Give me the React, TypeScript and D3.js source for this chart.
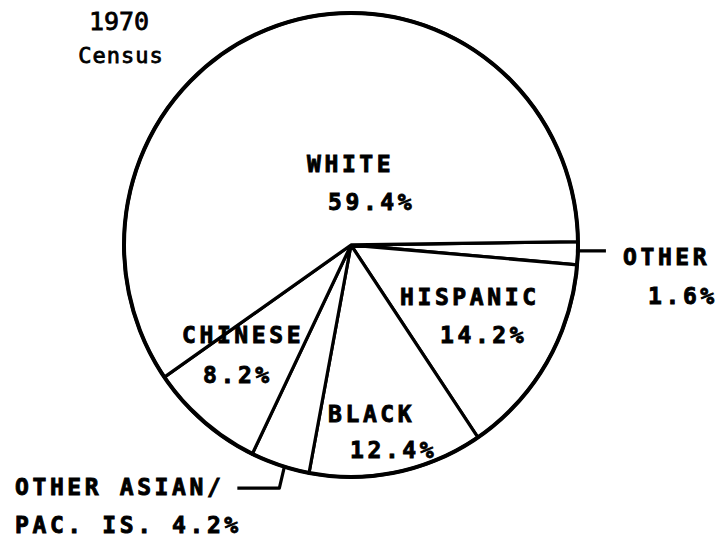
import React, { useEffect, useRef } from "react";
import * as d3 from "d3";

// slices clockwise from 3 o'clock
const groups = ["OTHER", "HISPANIC", "BLACK", "OTHER ASIAN", "CHINESE", "WHITE"];
const shares = [1.6, 14.2, 12.4, 4.2, 8.2, 59.4];
const labelLines = [
  ["OTHER", "1.6%"],
  ["HISPANIC", "14.2%"],
  ["BLACK", "12.4%"],
  ["OTHER ASIAN/", "PAC. IS. 4.2%"],
  ["CHINESE", "8.2%"],
  ["WHITE", "59.4%"],
];
const titleLines = ["1970", "Census"];

export default function App() {
  const ref = useRef<SVGSVGElement>(null);

  useEffect(() => {
    const svg = d3.select(ref.current);
    svg.selectAll("*").remove();

    const cx = 351, cy = 245, rx = 227, ry = 232;
    const font = "'DejaVu Sans Mono', monospace";

    const pie = d3.pie<number>().sort(null)
      .startAngle(Math.PI / 2 - 0.015)
      .endAngle(Math.PI / 2 - 0.015 + 2 * Math.PI);
    const arcs = pie(shares);
    const arc = d3.arc<d3.PieArcDatum<number>>().innerRadius(0).outerRadius(rx);

    const g = svg.append("g").attr("transform", `translate(${cx},${cy}) scale(1,${ry / rx})`);
    g.selectAll("path.slice").data(arcs).enter().append("path")
      .attr("class", "slice")
      .attr("d", arc)
      .attr("fill", "#fff")
      .attr("stroke", "#000")
      .attr("stroke-width", 3.2)
      .attr("stroke-linejoin", "round");

    // outer rim a bit heavier
    g.append("ellipse").attr("rx", rx).attr("ry", rx)
      .attr("fill", "none").attr("stroke", "#000").attr("stroke-width", 4);

    const edge = (a: number, r = rx) => [Math.sin(a) * r, -Math.cos(a) * r];

    // leader for OTHER
    const o = arcs[0];
    const pO = edge((o.startAngle + o.endAngle) / 2 - 0.01);
    g.append("path")
      .attr("d", `M${pO[0] - 2},${pO[1]} L${pO[0] + 28},${pO[1]}`)
      .attr("stroke", "#000").attr("stroke-width", 3.2).attr("fill", "none");

    // leader for OTHER ASIAN
    const oa = arcs[3];
    const pA = edge((oa.startAngle + oa.endAngle) / 2 - 0.02);
    g.append("path")
      .attr("d", `M${pA[0]},${pA[1]} L${pA[0] - 5},${pA[1] + 21} L${pA[0] - 47},${pA[1] + 21}`)
      .attr("stroke", "#000").attr("stroke-width", 3.2).attr("fill", "none")
      .attr("stroke-linejoin", "round");

    // title
    const t = svg.append("g").attr("font-family", font).attr("fill", "#000")
      .attr("stroke", "#000").attr("stroke-width", 0.8);
    t.append("text").attr("x", 119).attr("y", 30).attr("text-anchor", "middle")
      .attr("font-size", 25).text(titleLines[0]);
    t.append("text").attr("x", 121).attr("y", 63).attr("text-anchor", "middle")
      .attr("font-size", 22).attr("letter-spacing", 1).text(titleLines[1]);

    // label anchors (left x, baseline y) for each line
    const labelPos: [number, number][][] = [
      [[623, 265], [648, 304]],
      [[400, 305], [440, 343]],
      [[328, 422], [350, 458]],
      [[15, 495], [15, 533]],
      [[182, 343], [203, 383]],
      [[307, 172], [328, 210]],
    ];

    const lab = svg.append("g").attr("font-family", font).attr("font-weight", "bold")
      .attr("font-size", 23).attr("letter-spacing", 3.6).attr("fill", "#000")
      .attr("stroke", "#000").attr("stroke-width", 0.9);
    groups.forEach((grp, i) => {
      labelLines[i].forEach((line, j) => {
        lab.append("text")
          .attr("x", labelPos[i][j][0])
          .attr("y", labelPos[i][j][1])
          .text(line);
      });
    });
  }, []);

  return (
    <div>
      <svg ref={ref} width={728} height={540} style={{ position: "absolute", left: 0, top: 0, background: "#fff" }} />
    </div>
  );
}
